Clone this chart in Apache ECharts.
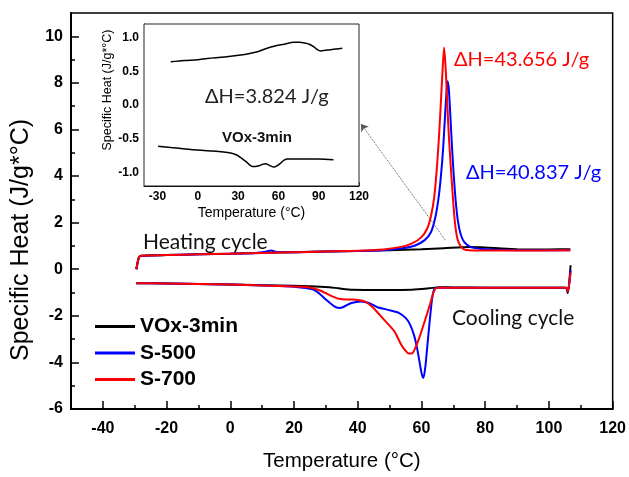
<!DOCTYPE html>
<html>
<head>
<meta charset="utf-8">
<script src="https://cdn.jsdelivr.net/npm/echarts@6/dist/echarts.min.js"></script>
<style>
  html, body { margin: 0; padding: 0; background: #fff; }
  #main { width: 629px; height: 477px; }
</style>
</head>
<body>
<div id="main"></div>
<script>
// sample names and colours
var names = ['VOx-3min', 'S-500', 'S-700'];
var colors = ['#000000', '#0000ff', '#ff0000'];

// tick values
var xMajor = [-40, -20, 0, 20, 40, 60, 80, 100, 120];
var xMinor = [-30, -10, 10, 30, 50, 70, 90, 110];
var yMajor = [-6, -4, -2, 0, 2, 4, 6, 8, 10];
var yMinor = [-5, -3, -1, 1, 3, 5, 7, 9];
var insetXMajor = [-30, 0, 30, 60, 90, 120];
var insetXMinor = [-15, 15, 45, 75, 105];
var insetYMajor = [-1, -0.5, 0, 0.5, 1];
var insetYMinor = [-0.75, -0.25, 0.25, 0.75];

// heating cycle [T, Cp]
var heatVOx = [[-29.5,0.0],[-28.7,0.5],[-28,0.58],[-20,0.61],[-10,0.64],[0,0.67],[10,0.7],[20,0.73],[30,0.76],[40,0.78],[50,0.82],[60,0.86],[67,0.9],[75,0.95],[80,0.93],[85,0.89],[90,0.86],[100,0.85],[106.7,0.86]];
var heatS500 = [[-29.5,0.0],[-28.7,0.5],[-28,0.58],[-20,0.61],[-10,0.64],[0,0.67],[8,0.7],[11,0.75],[12.8,0.8],[14.5,0.74],[20,0.73],[30,0.76],[40,0.78],[48,0.82],[54,0.9],[58,1.02],[61,1.25],[63,1.6],[64.3,2.2],[65.3,3.0],[66.1,4.0],[66.8,5.2],[67.4,6.6],[67.9,7.7],[68.2,8.07],[68.6,7.7],[69.1,6.5],[69.6,5.2],[70.1,4.1],[70.7,3.0],[71.4,2.1],[72.3,1.5],[73.5,1.15],[75.5,0.95],[79,0.87],[85,0.83],[95,0.81],[106.7,0.81]];
var heatS700 = [[-29.5,0.0],[-28.7,0.5],[-28,0.58],[-20,0.61],[-10,0.64],[0,0.67],[10,0.7],[20,0.73],[30,0.76],[40,0.79],[48,0.85],[54,0.97],[57.2,1.12],[60,1.38],[61.8,1.75],[63,2.3],[64,3.1],[64.8,4.3],[65.5,5.7],[66.1,7.2],[66.6,8.5],[67.1,9.52],[67.6,8.6],[68.1,7.1],[68.6,5.7],[69.2,4.4],[69.8,3.2],[70.5,2.0],[71.3,1.3],[72.5,0.95],[74,0.83],[80,0.8],[90,0.8],[106.7,0.81]];

// cooling cycle [T, Cp]
var coolVOx = [[106.8,0.17],[106.4,-0.5],[105.9,-1.02],[105.3,-0.8],[100,-0.79],[90,-0.79],[80,-0.79],[70,-0.78],[65.6,-0.77],[62.4,-0.82],[57,-0.88],[48,-0.89],[38.4,-0.88],[34,-0.82],[31,-0.77],[25,-0.73],[15,-0.7],[0,-0.66],[-10,-0.63],[-20,-0.61],[-29.5,-0.6]];
var coolS500 = [[106.8,-0.05],[106.4,-0.6],[105.9,-0.95],[105.3,-0.79],[100,-0.79],[80,-0.79],[70,-0.79],[65,-0.8],[64,-0.86],[63.3,-1.3],[62.6,-2.2],[61.9,-3.2],[61.2,-4.2],[60.6,-4.67],[60,-4.45],[59.3,-3.9],[58.5,-3.3],[57.7,-2.85],[56.5,-2.4],[55.1,-2.1],[53,-1.88],[50,-1.76],[46,-1.62],[43.5,-1.45],[41,-1.38],[38,-1.45],[35.5,-1.62],[34.2,-1.66],[32.5,-1.58],[30,-1.3],[28,-1.05],[25.8,-0.86],[20,-0.75],[15,-0.72],[0,-0.66],[-10,-0.63],[-20,-0.61],[-29.5,-0.6]];
var coolS700 = [[106.8,-0.14],[106.4,-0.6],[105.9,-0.95],[105.3,-0.79],[100,-0.79],[80,-0.79],[70,-0.79],[65,-0.8],[64,-0.92],[63,-1.35],[61.9,-1.85],[60.5,-2.45],[59.3,-2.95],[58,-3.4],[57,-3.62],[56,-3.62],[55,-3.5],[53.6,-3.23],[51.5,-2.67],[48.8,-2.25],[46.5,-1.9],[44.6,-1.62],[42.5,-1.4],[40,-1.32],[37,-1.3],[34.5,-1.28],[33,-1.22],[31,-1.1],[28,-0.9],[24,-0.76],[15,-0.72],[0,-0.66],[-10,-0.63],[-20,-0.61],[-29.5,-0.6]];

// inset: VOx-3min zoomed
var insetHeat = [[-20.1,0.64],[-10,0.66],[0,0.67],[7.2,0.69],[20,0.71],[32,0.74],[40,0.77],[44.4,0.79],[50,0.83],[56.8,0.87],[64.2,0.9],[71.6,0.93],[76,0.93],[79.1,0.92],[83,0.9],[86.5,0.86],[89,0.82],[91.5,0.8],[95,0.81],[98.9,0.82],[103,0.83],[107.6,0.84]];
var insetCool = [[-29.5,-0.61],[-20,-0.63],[-5.2,-0.66],[10,-0.68],[24.5,-0.71],[29,-0.74],[32,-0.78],[36,-0.84],[40.7,-0.91],[43,-0.91],[45.6,-0.9],[48,-0.88],[50.6,-0.87],[53,-0.89],[56.8,-0.92],[59,-0.9],[61.7,-0.86],[64,-0.82],[66.7,-0.8],[75,-0.8],[81.6,-0.8],[90,-0.8],[101,-0.81]];

var FONT = 'Liberation Sans';
var CAL = 'Lato';

function axis(dim, grid, min, max, major, opts) {
    var a = {
        type: 'value', gridIndex: grid, min: min, max: max,
        position: dim === 'x' ? 'bottom' : 'left',
        splitLine: { show: false },
        axisLine: { show: !opts.noLine, onZero: false, lineStyle: { color: '#000', width: opts.lineW } },
        axisTick: { show: true, inside: true, length: opts.tickLen, customValues: major, lineStyle: { color: '#000', width: 1.5 } },
        axisLabel: { show: !opts.noLabel, customValues: major, margin: opts.margin, color: '#000',
            fontFamily: FONT, fontWeight: 'bold', fontSize: opts.fontSize, formatter: opts.fmt },
        name: opts.name || '', nameLocation: 'middle', nameGap: opts.nameGap,
        nameTextStyle: { fontFamily: FONT, fontSize: opts.nameSize, color: '#000', padding: opts.namePad || 0 }
    };
    return a;
}

var lineSeries = [];
var heats = [heatVOx, heatS500, heatS700];
var cools = [coolVOx, coolS500, coolS700];
for (var i = 0; i < 3; i++) {
    [heats[i], cools[i]].forEach(function (d) {
        lineSeries.push({
            name: names[i], type: 'line', xAxisIndex: 0, yAxisIndex: 0,
            data: d, showSymbol: false, symbol: 'none', smooth: 0.25,
            lineStyle: { color: colors[i], width: 2 }, itemStyle: { color: colors[i] },
            z: 3 + i
        });
    });
}
// dotted pointer from the heating base to the inset
lineSeries[0].markLine = {
    silent: true, symbol: ['none', 'arrow'], symbolSize: 7,
    label: { show: false },
    lineStyle: { type: 'dotted', color: '#555', width: 1 },
    data: [[{ coord: [67.5, 1.25] }, { coord: [41, 6.24] }]]
};
lineSeries.push({
    type: 'line', xAxisIndex: 2, yAxisIndex: 2, data: insetHeat, showSymbol: false, symbol: 'none',
    smooth: 0.3, lineStyle: { color: '#000', width: 1.5 }, z: 10
});
lineSeries.push({
    type: 'line', xAxisIndex: 2, yAxisIndex: 2, data: insetCool, showSymbol: false, symbol: 'none',
    smooth: 0.3, lineStyle: { color: '#000', width: 1.5 }, z: 10
});

var option = {
    animation: false,
    backgroundColor: '#fff',
    grid: [
        { left: 71, top: 13, width: 542, height: 403, show: true, borderColor: '#000', borderWidth: 1.5 },
        { left: 144, top: 24, width: 215, height: 162, show: true, borderColor: '#222', borderWidth: 1, backgroundColor: '#fff', z: 5 }
    ],
    xAxis: [
        axis('x', 0, -50, 120, xMajor, { lineW: 2, tickLen: 8, margin: 12, fontSize: 16, name: 'Temperature (°C)', nameGap: 42, nameSize: 20.5 }),
        axis('x', 0, -50, 120, xMinor, { lineW: 0, tickLen: 4, noLabel: true, noLine: true }),
        axis('x', 1, -40, 120, insetXMajor, { lineW: 1, tickLen: 4, margin: 5, fontSize: 12, name: 'Temperature (°C)', nameGap: 20, nameSize: 14 }),
        axis('x', 1, -40, 120, insetXMinor, { lineW: 0, tickLen: 3, noLabel: true, noLine: true })
    ],
    yAxis: [
        axis('y', 0, -6, 11, yMajor, { lineW: 2, tickLen: 8, margin: 8, fontSize: 16, name: 'Specific Heat (J/g*°C)', nameGap: 37, nameSize: 25, namePad: [0, 58, 0, 0] }),
        axis('y', 0, -6, 11, yMinor, { lineW: 0, tickLen: 4, noLabel: true, noLine: true }),
        axis('y', 1, -1.2, 1.2, insetYMajor, { lineW: 1, tickLen: 4, margin: 5, fontSize: 12, name: 'Specific Heat (J/g*°C)', nameGap: 28, nameSize: 12.5, namePad: [0, 0, 0, 30],
            fmt: function (v) { return v.toFixed(1); } }),
        axis('y', 1, -1.2, 1.2, insetYMinor, { lineW: 0, tickLen: 3, noLabel: true, noLine: true })
    ],
    legend: {
        data: names, orient: 'vertical', left: 95, top: 316, padding: 0,
        icon: 'rect', itemWidth: 40, itemHeight: 3, itemGap: 5.5,
        textStyle: { fontFamily: FONT, fontWeight: 'bold', fontSize: 21, lineHeight: 21, color: '#000' }
    },
    graphic: [
        { type: 'text', x: 143, y: 242, style: { text: 'Heating cycle', font: '21px ' + CAL, fill: '#111', verticalAlign: 'middle' } },
        { type: 'text', x: 452, y: 318, style: { text: 'Cooling cycle', font: '21px ' + CAL, fill: '#111', verticalAlign: 'middle' } },
        { type: 'text', x: 454, y: 60, style: { text: 'ΔH=43.656 J/g', font: '20px ' + CAL, fill: '#ff0000', verticalAlign: 'middle' } },
        { type: 'text', x: 466, y: 173, style: { text: 'ΔH=40.837 J/g', font: '20px ' + CAL, fill: '#0000ff', verticalAlign: 'middle' } },
        { type: 'text', x: 205, y: 97, z: 20, style: { text: 'ΔH=3.824 J/g', font: '20px ' + CAL, fill: '#222', verticalAlign: 'middle' } },
        { type: 'text', x: 257, y: 138, z: 20, style: { text: 'VOx-3min', font: 'bold 15px ' + FONT, fill: '#111', align: 'center', verticalAlign: 'middle' } }
    ],
    series: lineSeries
};

echarts.init(document.getElementById('main')).setOption(option);
</script>
</body>
</html>
